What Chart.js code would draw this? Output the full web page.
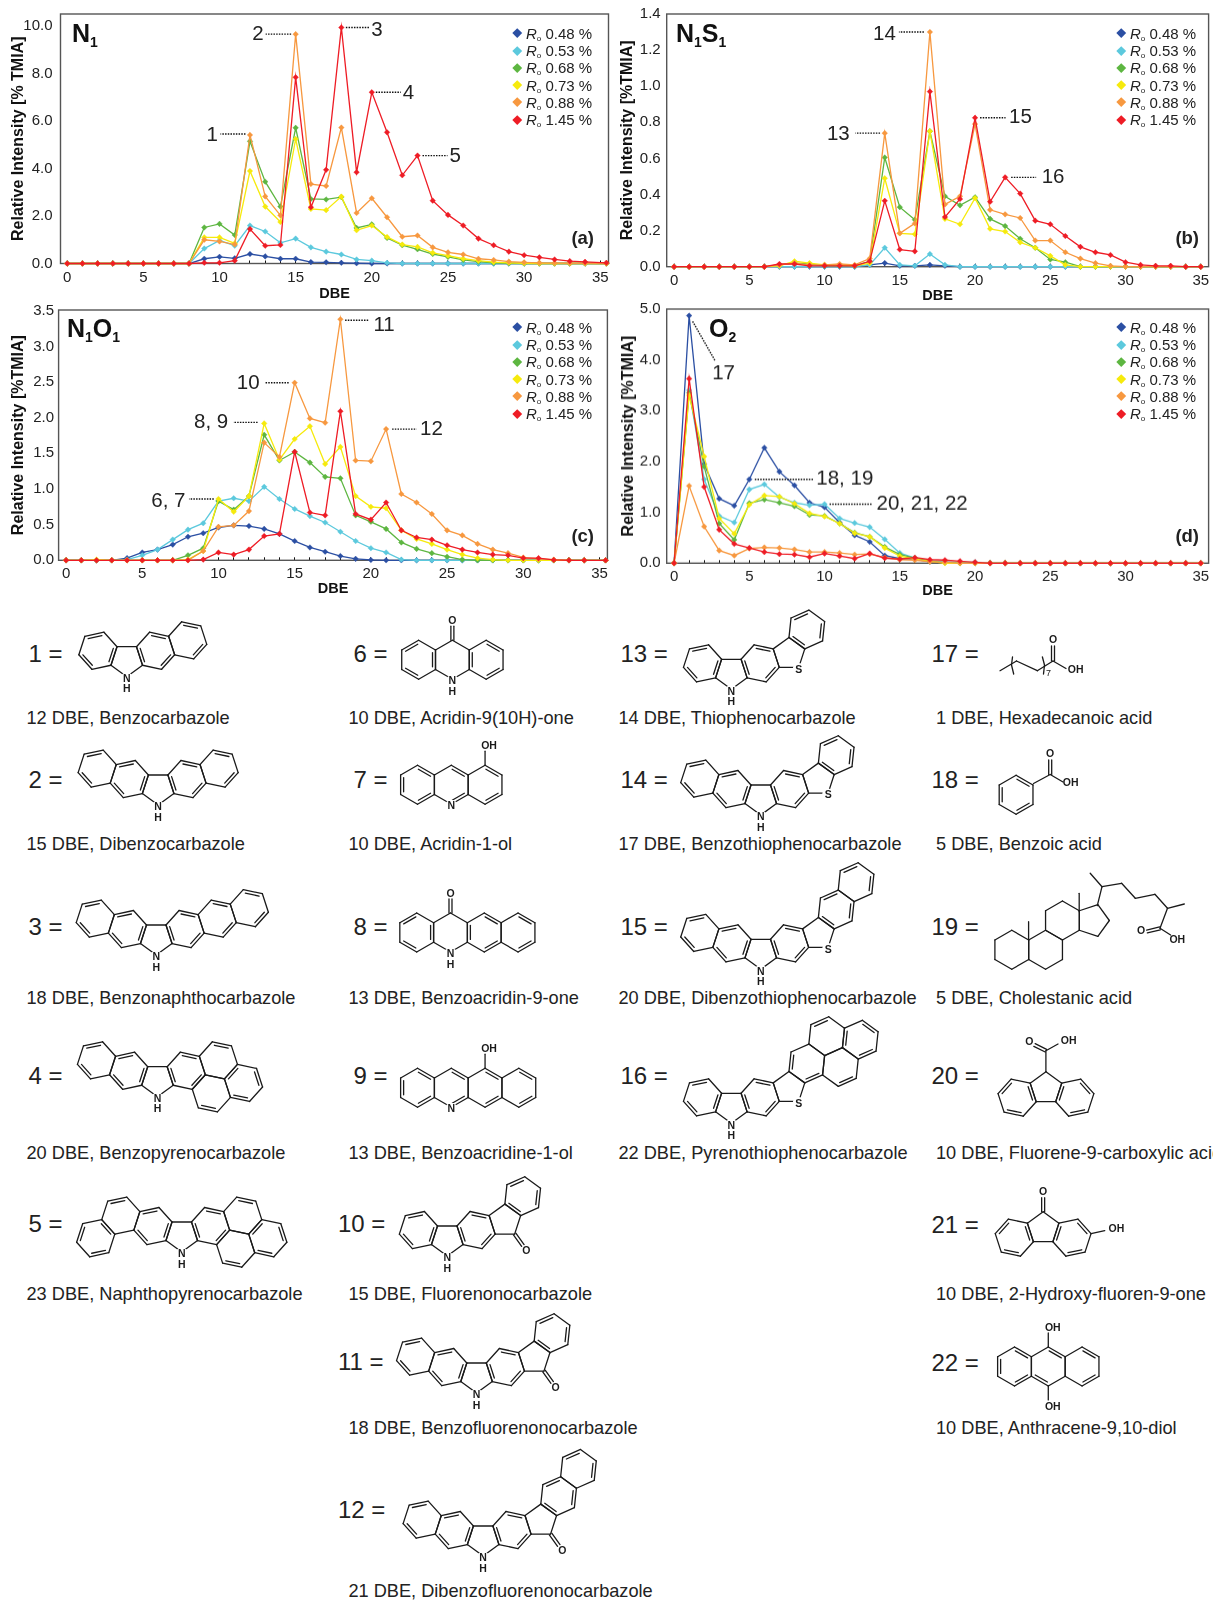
<!DOCTYPE html>
<html>
<head>
<meta charset="utf-8">
<title>DBE distributions</title>
<script src="https://cdn.jsdelivr.net/npm/chart.js"></script>
<style>
html, body { margin: 0; padding: 0; background: #fff; }
#page { position: relative; width: 1213px; height: 1600px; overflow: hidden; font-family: "Liberation Sans", Arial, sans-serif; color: #222; }
#page canvas { position: absolute; }
#mols { position: absolute; left: 0; top: 0; }
.lab { position: absolute; white-space: nowrap; transform: translateY(-50%); }
.tag { font-weight: bold; font-size: 25px; color: #111; }
.tag sub { font-size: 14px; vertical-align: -5px; line-height: 0; }
.letter { font-weight: bold; font-size: 18.5px; transform: translate(-100%, -50%); color: #222; }
.cap { font-size: 18.2px; }
.num { font-size: 24px; }
.leg { font-size: 15px; }
.leg i.mk { position: absolute; left: -12.5px; top: 5.5px; width: 6.5px; height: 6.5px; transform: rotate(45deg); }
.leg sub { font-size: 8px; vertical-align: -2px; line-height: 0; }
</style>
</head>
<body>
<div id="page"></div>
<script>
const dbeAC = [0,1,2,3,4,5,6,7,8,9,10,11,12,13,14,15,16,17,18,19,20,21,22,23,24,25,26,27,28,29,30,31,32,33,34,35.4];
const dbeBD = [0,1,2,3,4,5,6,7,8,9,10,11,12,13,14,15,16,17,18,19,20,21,22,23,24,25,26,27,28,29,30,31,32,33,34,35];

const maturity = ["0.48 %", "0.53 %", "0.68 %", "0.73 %", "0.88 %", "1.45 %"];
const colors = ["#2b4fa3", "#5cc9dd", "#5db641", "#f6ea0c", "#f7983f", "#ee1c25"];

// N1
const n1_048 = [0,0,0,0,0,0,0,0,0,0.20,0.28,0.22,0.40,0.30,0.20,0.20,0.06,0.05,0.03,0.01,0,0,0,0,0,0,0,0,0,0,0,0,0,0,0,0];
const n1_053 = [0,0,0,0,0,0,0,0,0,0.63,0.97,0.75,1.60,1.35,0.87,1.05,0.68,0.50,0.38,0.17,0.12,0.03,0,0,0,0,0,0,0,0,0,0,0,0,0,0];
const n1_068 = [0,0,0,0,0,0,0,0,0,1.52,1.67,1.20,5.15,3.45,2.40,5.72,2.72,2.70,2.80,1.50,1.65,1.08,0.77,0.60,0.40,0.28,0.15,0.08,0.03,0.01,0,0,0,0,0,0];
const n1_073 = [0,0,0,0,0,0,0,0,0,1.10,1.10,0.85,3.90,2.40,1.75,5.25,2.30,2.25,2.82,1.40,1.60,1.12,0.80,0.70,0.45,0.33,0.20,0.12,0.06,0.03,0.01,0,0,0,0,0];
const n1_088 = [0,0,0,0,0,0,0,0,0,1.00,0.93,0.80,5.42,2.83,2.03,9.67,3.35,3.27,5.73,2.13,2.75,1.95,1.13,1.18,0.68,0.47,0.38,0.20,0.15,0.08,0.05,0.03,0.02,0.01,0.01,0];
const n1_145 = [0,0,0,0,0,0,0,0,0,0.03,0.03,0.12,1.45,0.75,0.78,7.85,2.37,3.95,9.95,3.85,7.22,5.53,3.72,4.55,2.65,2.05,1.60,1.05,0.77,0.50,0.35,0.26,0.17,0.10,0.07,0.03];

// N1S1
const ns_048 = [0,0,0,0,0,0,0,0,0,0,0,0,0,0.01,0.02,0.005,0.005,0.01,0.005,0,0,0,0,0,0,0,0,0,0,0,0,0,0,0,0,0];
const ns_053 = [0,0,0,0,0,0,0,0,0,0,0,0,0,0.01,0.105,0.01,0.005,0.07,0.01,0,0,0,0,0,0,0,0,0,0,0,0,0,0,0,0,0];
const ns_068 = [0,0,0,0,0,0,0,0.01,0.02,0.015,0.005,0.005,0.005,0.03,0.605,0.33,0.26,0.75,0.39,0.34,0.385,0.265,0.225,0.155,0.105,0.04,0.025,0,0,0,0,0,0,0,0,0];
const ns_073 = [0,0,0,0,0,0,0,0.005,0.03,0.02,0.01,0.01,0.005,0.02,0.49,0.185,0.18,0.75,0.265,0.235,0.38,0.21,0.195,0.135,0.105,0.06,0.01,0,0,0,0,0,0,0,0,0];
const ns_088 = [0,0,0,0,0,0,0,0.01,0.02,0.01,0.01,0.015,0.01,0.045,0.74,0.185,0.24,1.30,0.345,0.39,0.79,0.315,0.29,0.27,0.145,0.145,0.08,0.045,0.02,0.005,0,0,0,0,0,0];
const ns_145 = [0,0,0,0,0,0,0,0.015,0.015,0.005,0.005,0.005,0.005,0.03,0.365,0.095,0.085,0.97,0.275,0.375,0.825,0.36,0.495,0.405,0.255,0.235,0.17,0.11,0.08,0.065,0.025,0.01,0.005,0.005,0,0];

// N1O1
const no_048 = [0,0,0,0,0.03,0.11,0.15,0.22,0.33,0.38,0.46,0.49,0.48,0.44,0.37,0.27,0.18,0.12,0.06,0.02,0.005,0,0,0,0,0,0,0,0,0,0,0,0,0,0,0];
const no_053 = [0,0,0,0,0.01,0.07,0.15,0.29,0.43,0.52,0.83,0.87,0.83,1.03,0.86,0.72,0.62,0.53,0.40,0.27,0.17,0.11,0.01,0,0,0,0,0,0,0,0,0,0,0,0,0];
const no_068 = [0,0,0,0,0,0,0,0,0.07,0.17,0.83,0.71,0.90,1.76,1.40,1.52,1.37,1.17,1.15,0.63,0.54,0.44,0.25,0.16,0.10,0.05,0.01,0,0,0,0,0,0,0,0,0];
const no_073 = [0,0,0.01,0,0,0,0,0,0.01,0.13,0.86,0.68,0.90,1.92,1.41,1.70,1.88,1.35,1.59,0.90,0.75,0.73,0.42,0.30,0.23,0.15,0.08,0.03,0.01,0,0,0,0,0,0,0];
const no_088 = [0,0,0,0,0,0,0,0,0,0.13,0.47,0.49,0.69,1.65,1.45,2.49,1.99,1.93,3.38,1.40,1.39,1.84,0.93,0.81,0.65,0.42,0.35,0.23,0.15,0.10,0.04,0.02,0.01,0,0,0];
const no_145 = [0,0,0,0,0,0,0,0,0,0.01,0.11,0.08,0.15,0.34,0.37,1.52,0.67,0.63,2.09,0.65,0.57,0.81,0.42,0.32,0.29,0.21,0.15,0.11,0.08,0.07,0.03,0.03,0.005,0,0,0];

// O2
const o2_048 = [0,4.87,1.95,1.27,1.13,1.65,2.27,1.80,1.53,1.19,1.10,0.80,0.55,0.42,0.15,0.09,0.08,0.03,0.02,0.01,0,0,0,0,0,0,0,0,0,0,0,0,0,0,0,0];
const o2_053 = [0,3.40,1.65,0.93,0.80,1.45,1.55,1.30,1.19,1.14,1.16,0.88,0.79,0.71,0.47,0.20,0.10,0.05,0.03,0.02,0.02,0.01,0,0,0,0,0,0,0,0,0,0,0,0,0,0];
const o2_068 = [0,3.35,1.90,0.78,0.46,1.18,1.25,1.19,1.12,0.95,0.93,0.78,0.60,0.52,0.32,0.17,0.10,0.04,0.01,0,0,0,0,0,0,0,0,0,0,0,0,0,0,0,0,0];
const o2_073 = [0,3.30,2.10,0.88,0.58,1.15,1.33,1.31,1.17,0.98,0.92,0.78,0.59,0.52,0.30,0.14,0.08,0.04,0,0,0,0,0,0,0,0,0,0,0,0,0,0,0,0,0,0];
const o2_088 = [0,1.52,0.72,0.25,0.15,0.29,0.31,0.30,0.27,0.22,0.22,0.20,0.17,0.18,0.11,0.07,0.06,0.03,0.02,0,0,0,0,0,0,0,0,0,0,0,0,0,0,0,0,0];
const o2_145 = [0,3.63,1.50,0.66,0.38,0.30,0.22,0.18,0.17,0.12,0.19,0.14,0.09,0.19,0.10,0.08,0.11,0.07,0.06,0.04,0.02,0,0,0,0,0,0,0,0,0,0,0,0,0,0,0];

// callouts: text, dbe, value, then leader and text offsets from the point in px
const calloutsA = [
    ["1", 12, 5.42, -4.5, -1, -29.5, -1, -32, 0, "right"],
    ["2", 15, 9.67, -4.5, 0, -30, 0, -32, 0, "right"],
    ["3", 18, 9.95, 4.5, 0, 28, 0, 30, 3, "left"],
    ["4", 20, 7.22, 4, 0, 29, 0, 31, 1, "left"],
    ["5", 23, 4.55, 5, 0, 30, 0, 32, 1, "left"]
];
const calloutsB = [
    ["13", 14, 0.74, -4.7, 0, -29.5, 0, -35, 1, "right"],
    ["14", 17, 1.30, -6, 0, -31, 0, -34, 2, "right"],
    ["15", 20, 0.825, 5, 0, 30.5, 0, 34, 0, "left"],
    ["16", 22, 0.495, 6, 0, 31, 0, 36.5, 0, "left"]
];
const calloutsC = [
    ["6, 7", 10, 0.86, -4.7, 0, -29.5, 0, -33, 2, "right"],
    ["8, 9", 13, 1.92, -6.6, -1, -31, -1, -36, -1, "right"],
    ["10", 15, 2.49, -6, 0, -30, 0, -35, 1, "right"],
    ["11", 18, 3.38, 4.7, 1, 29, 1, 33, 6, "left"],
    ["12", 21, 1.84, 6, 0, 30.5, 0, 34, 0, "left"]
];
const calloutsD = [
    ["17", 1, 4.87, 3.5, 5.7, 26, 45, 34.5, 58, "center"],
    ["18, 19", 5, 1.65, 5.5, 0, 64, 0, 67, 0, "left"],
    ["20, 21, 22", 10, 1.16, 5, 0, 48, 0, 52, 0, "left"]
];

const page = document.getElementById("page");

function addLabel(cls, x, y, html) {
    let d = document.createElement("div");
    d.className = "lab " + cls;
    d.style.left = x + "px";
    d.style.top = y + "px";
    d.innerHTML = html;
    page.appendChild(d);
    return d;
}

const framePlugin = {
    id: "frame",
    beforeDatasetsDraw(chart) {
        const a = chart.chartArea, ctx = chart.ctx;
        ctx.save();
        ctx.strokeStyle = "#555";
        ctx.lineWidth = 1.4;
        ctx.strokeRect(a.left, a.top, a.right - a.left, a.bottom - a.top);
        ctx.restore();
    }
};

const calloutPlugin = {
    id: "callouts",
    afterDatasetsDraw(chart, args, opts) {
        const ctx = chart.ctx;
        opts.items.forEach(c => {
            let px = chart.scales.x.getPixelForValue(c[1]);
            let py = chart.scales.y.getPixelForValue(c[2]);
            ctx.save();
            ctx.setLineDash([1.5, 1.2]);
            ctx.strokeStyle = "#111";
            ctx.lineWidth = 1.4;
            ctx.beginPath();
            ctx.moveTo(px + c[3], py + c[4]);
            ctx.lineTo(px + c[5], py + c[6]);
            ctx.stroke();
            ctx.fillStyle = "#222";
            ctx.font = '20.5px "Liberation Sans"';
            ctx.textAlign = c[9];
            ctx.textBaseline = "middle";
            ctx.fillText(c[0], px + c[7], py + c[8]);
            ctx.restore();
        });
    }
};

function makePanel(p) {
    let left = Math.round(p.titleX - 8.7);
    let top = p.T - 6;
    let right = Math.min(1213, Math.ceil(p.R + 4));
    let bottom = Math.round(p.dbeY + 10.2);
    let c = document.createElement("canvas");
    c.style.left = left + "px";
    c.style.top = top + "px";
    c.style.width = (right - left) + "px";
    c.style.height = (bottom - top) + "px";
    c.width = right - left;
    c.height = bottom - top;
    page.appendChild(c);

    let datasets = p.series.map((arr, i) => ({
        label: "Ro " + maturity[i],
        data: arr.map((v, k) => ({ x: p.dbe[k], y: v })),
        borderColor: colors[i],
        backgroundColor: colors[i],
        borderWidth: 1.3,
        pointStyle: "rectRot",
        pointRadius: 2.8,
        pointBorderWidth: 0.4,
        tension: 0,
        clip: false,
        order: 5 - i
    }));

    new Chart(c.getContext("2d"), {
        type: "line",
        data: { datasets: datasets },
        plugins: [framePlugin, calloutPlugin],
        options: {
            responsive: false,
            animation: false,
            layout: { padding: { top: 6, right: right - p.R, left: 0, bottom: 0 } },
            plugins: { legend: { display: false }, tooltip: { enabled: false }, callouts: { items: p.callouts } },
            scales: {
                x: {
                    type: "linear",
                    min: p.xMin,
                    max: p.xMax,
                    afterFit: s => { s.height = bottom - p.B; s.paddingLeft = 0; s.paddingRight = 0; },
                    border: { display: false },
                    grid: { drawOnChartArea: false, drawTicks: true, tickLength: -3, tickColor: "#111", tickWidth: 1 },
                    ticks: {
                        stepSize: 1,
                        autoSkip: false,
                        maxRotation: 0,
                        includeBounds: false,
                        padding: 8,
                        color: "#222",
                        font: { family: "Liberation Sans", size: 15 },
                        callback: v => (v % 5 === 0 ? String(v) : "")
                    },
                    title: { display: true, text: "DBE", padding: 0, color: "#111", font: { family: "Liberation Sans", size: 14.5, weight: "bold" } }
                },
                y: {
                    min: 0,
                    max: p.yMax,
                    afterFit: s => { s.width = p.L - left; s.paddingTop = 0; s.paddingBottom = 0; },
                    border: { display: false },
                    grid: { drawOnChartArea: false, drawTicks: false },
                    ticks: {
                        stepSize: p.yStep,
                        includeBounds: false,
                        padding: p.tickPad,
                        color: "#222",
                        font: { family: "Liberation Sans", size: 15 },
                        callback: v => v.toFixed(1)
                    },
                    title: { display: true, text: p.yTitle, padding: 0, color: "#111", font: { family: "Liberation Sans", size: 16, weight: "bold" } }
                }
            }
        }
    });

    maturity.forEach((m, i) => {
        let d = addLabel("leg", p.legX, p.legY + i * 17.3, "<i>R</i><sub>o</sub> " + m);
        let mk = document.createElement("i");
        mk.className = "mk";
        mk.style.background = colors[i];
        d.appendChild(mk);
    });
    addLabel("tag", p.tagX, p.tagY, p.tag);
    addLabel("letter", p.letterX, p.letterY, p.letter);
}

makePanel({ L: 60.5, R: 608.5, T: 14, B: 263.5, xMin: -0.44, xMax: 35.54, yMax: 10.52, yStep: 2, dbe: dbeAC, titleX: 17.6, dbeY: 292.7, tickPad: 8,
    series: [n1_048, n1_053, n1_068, n1_073, n1_088, n1_145], callouts: calloutsA, yTitle: "Relative Intensity [% TMIA]",
    legX: 526, legY: 32.7, tag: "N<sub>1</sub>", tagX: 72, tagY: 33, letter: "(a)", letterX: 594, letterY: 238 });
makePanel({ L: 666.7, R: 1211.8, T: 14, B: 266.7, xMin: -0.49, xMax: 35.52, yMax: 1.4, yStep: 0.2, dbe: dbeBD, titleX: 626.7, dbeY: 295, tickPad: 6,
    series: [ns_048, ns_053, ns_068, ns_073, ns_088, ns_145], callouts: calloutsB, yTitle: "Relative Intensity [%TMIA]",
    legX: 1130, legY: 32.7, tag: "N<sub>1</sub>S<sub>1</sub>", tagX: 676, tagY: 33, letter: "(b)", letterX: 1199, letterY: 238 });
makePanel({ L: 58.6, R: 607.4, T: 310, B: 560.3, xMin: -0.49, xMax: 35.52, yMax: 3.51, yStep: 0.5, dbe: dbeAC, titleX: 17.6, dbeY: 588, tickPad: 4.5,
    series: [no_048, no_053, no_068, no_073, no_088, no_145], callouts: calloutsC, yTitle: "Relative Intensity [%TMIA]",
    legX: 526, legY: 326.7, tag: "N<sub>1</sub>O<sub>1</sub>", tagX: 67, tagY: 328, letter: "(c)", letterX: 594, letterY: 536 });
makePanel({ L: 666.7, R: 1211.8, T: 309.3, B: 563.3, xMin: -0.49, xMax: 35.52, yMax: 5, yStep: 1, dbe: dbeBD, titleX: 627.5, dbeY: 590, tickPad: 6,
    series: [o2_048, o2_053, o2_068, o2_073, o2_088, o2_145], callouts: calloutsD, yTitle: "Relative Intensity [%TMIA]",
    legX: 1130, legY: 326.7, tag: "O<sub>2</sub>", tagX: 709, tagY: 328, letter: "(d)", letterX: 1199, letterY: 536 });

// compound captions and "n =" labels
const capCols = [26.5, 348.4, 618.4, 936];
const capRows = [718, 844, 998, 1153, 1294, 1428, 1590.7];
const captions = [
    ["12 DBE, Benzocarbazole", "15 DBE, Dibenzocarbazole", "18 DBE, Benzonaphthocarbazole", "20 DBE, Benzopyrenocarbazole", "23 DBE, Naphthopyrenocarbazole"],
    ["10 DBE, Acridin-9(10H)-one", "10 DBE, Acridin-1-ol", "13 DBE, Benzoacridin-9-one", "13 DBE, Benzoacridine-1-ol", "15 DBE, Fluorenonocarbazole", "18 DBE, Benzofluorenonocarbazole", "21 DBE, Dibenzofluorenonocarbazole"],
    ["14 DBE, Thiophenocarbazole", "17 DBE, Benzothiophenocarbazole", "20 DBE, Dibenzothiophenocarbazole", "22 DBE, Pyrenothiophenocarbazole"],
    ["1 DBE, Hexadecanoic acid", "5 DBE, Benzoic acid", "5 DBE, Cholestanic acid", "10 DBE, Fluorene-9-carboxylic acid", "10 DBE, 2-Hydroxy-fluoren-9-one", "10 DBE, Anthracene-9,10-diol"]
];
captions.forEach((col, i) => col.forEach((t, j) => addLabel("cap", capCols[i], capRows[j], t)));

const numberLabels = [
    ["1", 28.5, 654], ["2", 28.5, 780], ["3", 28.5, 927], ["4", 28.5, 1076], ["5", 28.5, 1224],
    ["6", 353.5, 654], ["7", 353.5, 780], ["8", 353.5, 927], ["9", 353.5, 1076],
    ["10", 338, 1224], ["11", 338, 1362], ["12", 338, 1510],
    ["13", 620.4, 654], ["14", 620.4, 780], ["15", 620.4, 927], ["16", 620.4, 1076],
    ["17", 931.4, 654], ["18", 931.4, 780], ["19", 931.4, 927], ["20", 931.4, 1076], ["21", 931.4, 1225], ["22", 931.4, 1363]
];
numberLabels.forEach(n => addLabel("num", n[1], n[2], n[0] + " ="));

// structures: rings are fused edge by edge, [parent, edge, sides, double bonds]
const SVGNS = "http://www.w3.org/2000/svg";
const svg = document.createElementNS(SVGNS, "svg");
svg.setAttribute("id", "mols");
svg.setAttribute("width", 1213);
svg.setAttribute("height", 1600);
page.appendChild(svg);

const BOND = 19.5;

function svgEl(name, attrs, text) {
    let e = document.createElementNS(SVGNS, name);
    for (let k in attrs) e.setAttribute(k, attrs[k]);
    if (text) e.textContent = text;
    svg.appendChild(e);
    return e;
}

function line(x1, y1, x2, y2) {
    svgEl("line", { x1: x1, y1: y1, x2: x2, y2: y2, stroke: "#1a1a1a", "stroke-width": 1.3, "stroke-linecap": "round" });
}

function poly(pts) {
    for (let i = 0; i + 3 < pts.length; i += 2) line(pts[i], pts[i + 1], pts[i + 2], pts[i + 3]);
}

function doubleLine(x1, y1, x2, y2) {
    let l = Math.hypot(x2 - x1, y2 - y1), nx = -(y2 - y1) / l * 1.5, ny = (x2 - x1) / l * 1.5;
    line(x1 + nx, y1 + ny, x2 + nx, y2 + ny);
    line(x1 - nx, y1 - ny, x2 - nx, y2 - ny);
}

function atomText(x, y, t, halo) {
    if (halo) svgEl("circle", { cx: x, cy: y, r: 6, fill: "#fff" });
    svgEl("text", { x: x, y: y + 3.7, "text-anchor": "middle", "font-family": "Liberation Sans", "font-size": 10.5, "font-weight": "bold", fill: "#1a1a1a" }, t);
}

function buildRing(v0, dir, n) {
    let v = [v0], a = dir;
    for (let i = 1; i < n; i++) {
        let p = v[i - 1];
        v.push([p[0] + BOND * Math.cos(a * Math.PI / 180), p[1] + BOND * Math.sin(a * Math.PI / 180)]);
        a += 360 / n;
    }
    let cx = 0, cy = 0;
    v.forEach(p => { cx += p[0] / n; cy += p[1] / n; });
    return { v: v, n: n, c: [cx, cy] };
}

function drawMol(m) {
    let rings = [];
    m.rings.forEach((r, i) => {
        let ring;
        if (i === 0) {
            ring = buildRing([m.x, m.y], m.a, r[2]);
        } else {
            let par = rings[r[0]];
            let A = par.v[r[1]], B = par.v[(r[1] + 1) % par.n];
            ring = buildRing(B, Math.atan2(A[1] - B[1], A[0] - B[0]) * 180 / Math.PI, r[2]);
        }
        rings.push(ring);
    });
    rings.forEach((ring, i) => {
        for (let e = 0; e < ring.n; e++) {
            let A = ring.v[e], B = ring.v[(e + 1) % ring.n];
            line(A[0], A[1], B[0], B[1]);
        }
        (m.rings[i][3] || []).forEach(e => {
            let A = ring.v[e], B = ring.v[(e + 1) % ring.n];
            let mx = (A[0] + B[0]) / 2, my = (A[1] + B[1]) / 2;
            let dx = ring.c[0] - mx, dy = ring.c[1] - my, d = Math.hypot(dx, dy);
            let ox = dx / d * 3, oy = dy / d * 3;
            line(A[0] + (B[0] - A[0]) * 0.14 + ox, A[1] + (B[1] - A[1]) * 0.14 + oy, B[0] - (B[0] - A[0]) * 0.14 + ox, B[1] - (B[1] - A[1]) * 0.14 + oy);
        });
    });
    // substituents: ring, vertex, text, double?, text distance, text dx
    (m.subs || []).forEach(s => {
        let ring = rings[s[0]], p = ring.v[s[1]];
        let dx = p[0] - ring.c[0], dy = p[1] - ring.c[1], d = Math.hypot(dx, dy);
        dx /= d; dy /= d;
        let q = [p[0] + dx * 14, p[1] + dy * 14];
        if (s[3]) doubleLine(p[0], p[1], q[0], q[1]);
        else line(p[0], p[1], q[0], q[1]);
        let td = s[4] || 20;
        atomText(p[0] + dx * td + (s[5] || 0), p[1] + dy * td, s[2], false);
    });
    // hetero atoms: ring, vertex, text, with H below?
    (m.atoms || []).forEach(a => {
        let p = rings[a[0]].v[a[1]];
        atomText(p[0], p[1] + 1.5, a[2], true);
        if (a[3]) atomText(p[0], p[1] + 12, "H", false);
    });
    if (m.extra) m.extra();
}

const K = [0, 2, 4], E = [2, 4];
const molecules = [
    { x: 117, y: 646.7, a: 0, rings: [[0, 0, 5], [0, 4, 6, K], [0, 1, 6, K], [2, 3, 6, E]], atoms: [[0, 3, "N", 1]] },
    { x: 148.4, y: 775, a: 0, rings: [[0, 0, 5], [0, 4, 6, K], [1, 3, 6, E], [0, 1, 6, K], [3, 3, 6, E]], atoms: [[0, 3, "N", 1]] },
    { x: 146.5, y: 925, a: 0, rings: [[0, 0, 5], [0, 4, 6, K], [1, 3, 6, E], [0, 1, 6, K], [3, 3, 6, E], [4, 3, 6, E]], atoms: [[0, 3, "N", 1]] },
    { x: 147.7, y: 1066.7, a: 0, rings: [[0, 0, 5], [0, 4, 6, K], [1, 3, 6, E], [0, 1, 6, K], [3, 3, 6, [2]], [4, 4, 6, K], [4, 5, 6, [3]]], atoms: [[0, 3, "N", 1]] },
    { x: 172, y: 1222, a: 0, rings: [[0, 0, 5], [0, 4, 6, K], [1, 3, 6, [4]], [2, 2, 6, K], [0, 1, 6, K], [4, 3, 6, [2]], [5, 4, 6, K], [5, 5, 6, [3]]], atoms: [[0, 3, "N", 1]] },
    { x: 435.5, y: 650, a: -30, rings: [[0, 0, 6], [0, 2, 6, K], [0, 5, 6, K]], atoms: [[0, 4, "N", 1]], subs: [[0, 1, "O", 1]] },
    { x: 434.4, y: 775, a: -30, rings: [[0, 0, 6, [1, 3]], [0, 2, 6, E], [0, 5, 6, [1, 3, 5]]], atoms: [[0, 4, "N", 0]], subs: [[1, 2, "OH", 0, 20, 4]] },
    { x: 433.6, y: 922.7, a: -30, rings: [[0, 0, 6], [0, 2, 6, K], [1, 3, 6, E], [0, 5, 6, K]], atoms: [[0, 4, "N", 1]], subs: [[0, 1, "O", 1]] },
    { x: 434.4, y: 1078, a: -30, rings: [[0, 0, 6, [1, 3]], [0, 2, 6, E], [1, 3, 6, E], [0, 5, 6, [1, 3, 5]]], atoms: [[0, 4, "N", 0]], subs: [[1, 2, "OH", 0, 20, 4]] },
    { x: 437.5, y: 1226, a: 0, rings: [[0, 0, 5], [0, 4, 6, K], [0, 1, 6, K], [2, 3, 5], [3, 2, 6, K]], atoms: [[0, 3, "N", 1]], subs: [[3, 4, "O", 1]] },
    { x: 466.8, y: 1363, a: 0, rings: [[0, 0, 5], [0, 4, 6, K], [1, 3, 6, E], [0, 1, 6, K], [3, 3, 5], [4, 2, 6, K]], atoms: [[0, 3, "N", 1]], subs: [[4, 4, "O", 1]] },
    { x: 473.4, y: 1526, a: 0, rings: [[0, 0, 5], [0, 4, 6, K], [1, 3, 6, E], [0, 1, 6, K], [3, 3, 5], [4, 2, 6, K], [5, 3, 6, E]], atoms: [[0, 3, "N", 1]], subs: [[4, 4, "O", 1]] },
    { x: 721.6, y: 659.3, a: 0, rings: [[0, 0, 5], [0, 4, 6, K], [0, 1, 6, K], [2, 3, 5], [3, 2, 6, K]], atoms: [[0, 3, "N", 1], [3, 4, "S", 0]] },
    { x: 751, y: 785, a: 0, rings: [[0, 0, 5], [0, 4, 6, K], [1, 3, 6, E], [0, 1, 6, K], [3, 3, 5], [4, 2, 6, K]], atoms: [[0, 3, "N", 1], [4, 4, "S", 0]] },
    { x: 751, y: 939.3, a: 0, rings: [[0, 0, 5], [0, 4, 6, K], [1, 3, 6, E], [0, 1, 6, K], [3, 3, 5], [4, 2, 6, K], [5, 3, 6, E]], atoms: [[0, 3, "N", 1], [4, 4, "S", 0]] },
    { x: 721.6, y: 1093.3, a: 0, rings: [[0, 0, 5], [0, 4, 6, K], [0, 1, 6, K], [2, 3, 5], [3, 2, 6, [1, 5]], [4, 3, 6, [2]], [5, 4, 6, K], [5, 5, 6, [3]]], atoms: [[0, 3, "N", 1], [3, 4, "S", 0]] },
    // 17, hexadecanoic acid
    { x: 0, y: 0, a: 0, rings: [], extra() {
        poly([1000, 670.7, 1016.5, 661, 1037.3, 670.7, 1053, 661, 1066, 668.5]);
        doubleLine(1053, 661, 1053, 646);
        atomText(1053, 639, "O", false);
        atomText(1075.7, 669.3, "OH", false);
        poly([1012.5, 657, 1011.5, 665, 1013.7, 674]);
        poly([1042.4, 657, 1044.5, 665, 1043.5, 674]);
        svgEl("text", { x: 1046, y: 676, "font-family": "Liberation Sans", "font-size": 9, fill: "#1a1a1a" }, "7");
    } },
    // 18, benzoic acid
    { x: 999.2, y: 785, a: -30, rings: [[0, 0, 6, [1, 3, 5]]], extra() {
        poly([1033.5, 783.5, 1050.2, 774.5, 1063, 782]);
        doubleLine(1050.2, 774.5, 1050.2, 760);
        atomText(1050.2, 753.5, "O", false);
        atomText(1070.6, 782.7, "OH", false);
    } },
    // 19, cholestanic acid
    { x: 994.9, y: 940, a: -30, rings: [[0, 0, 6], [0, 2, 6], [1, 2, 6], [2, 4, 5]], extra() {
        poly([1028.6, 940, 1028.6, 921.7]);
        poly([1079.2, 911.7, 1079.2, 893.3]);
        poly([1097.3, 905.7, 1102, 886.7, 1090.2, 873.3]);
        poly([1102, 886.7, 1121.6, 883.3, 1135.3, 898.3, 1154.9, 894.3, 1167.5, 908.3, 1184.3, 904]);
        poly([1167.5, 908.3, 1160, 928.3, 1170.6, 935]);
        doubleLine(1160, 928.3, 1147, 931.5);
        atomText(1141, 930, "O", false);
        atomText(1177.3, 939.3, "OH", false);
    } },
    // 20, fluorene-9-carboxylic acid
    { x: 1055.7, y: 1101.7, a: 180, rings: [[0, 0, 5], [0, 1, 6, K], [0, 4, 6, K]], extra() {
        poly([1045.9, 1071.7, 1045.9, 1050.7, 1058, 1044]);
        doubleLine(1045.9, 1050.7, 1034.5, 1045);
        atomText(1029.4, 1041.7, "O", false);
        atomText(1068.6, 1040.7, "OH", false);
    } },
    { x: 1052.9, y: 1241.7, a: 180, rings: [[0, 0, 5], [0, 1, 6, K], [0, 4, 6, K]], subs: [[0, 3, "O", 1], [2, 3, "OH", 0, 26]] },
    { x: 1031.4, y: 1356.7, a: -30, rings: [[0, 0, 6, [1, 4]], [0, 2, 6, E], [0, 5, 6, [1, 3, 5]]], subs: [[0, 1, "OH", 0, 20, 4.5], [0, 4, "OH", 0, 20, 4.5]] }
];
molecules.forEach(m => drawMol(m));
</script>
</body>
</html>
